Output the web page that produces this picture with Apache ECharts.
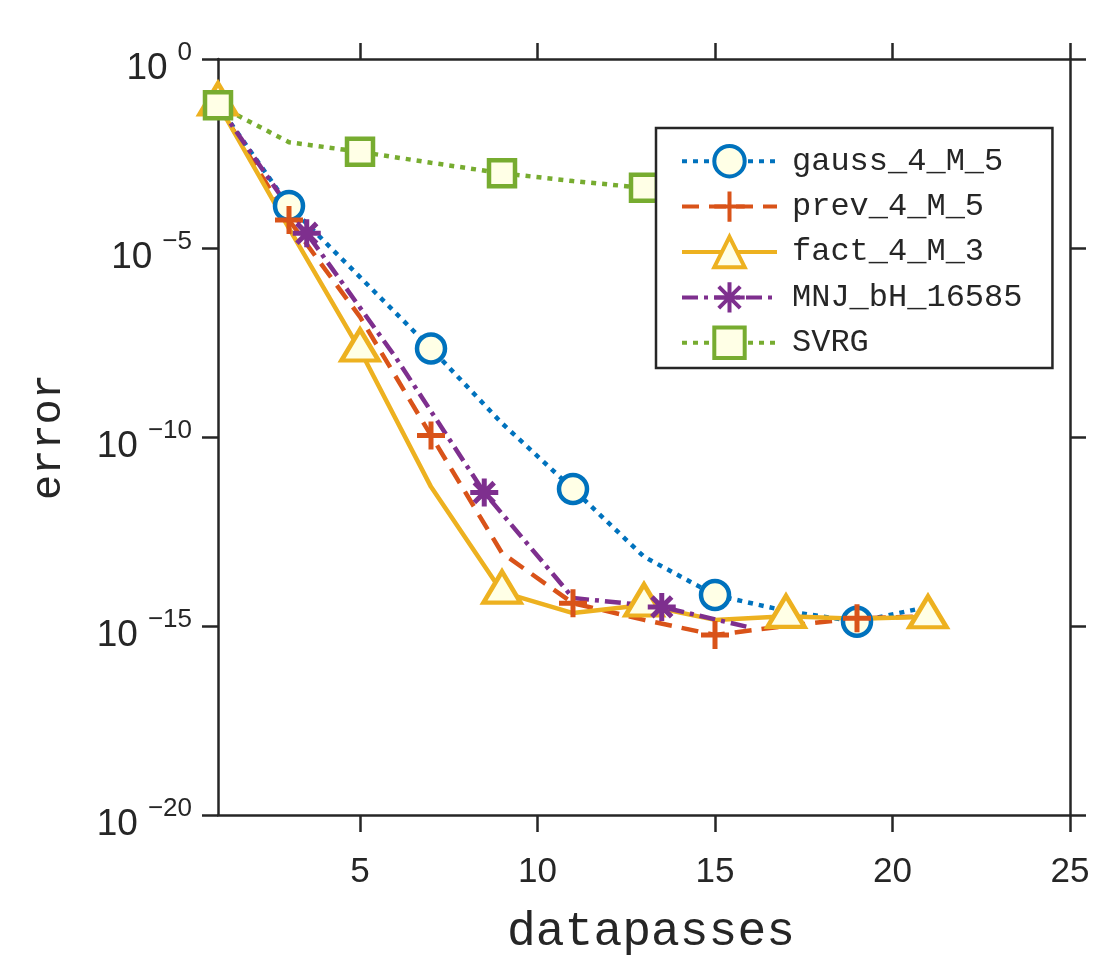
<!DOCTYPE html>
<html lang="en">
<head>
    <meta charset="UTF-8">
    <title>error vs datapasses</title>
    <script src="https://cdn.jsdelivr.net/npm/echarts@6/dist/echarts.min.js"></script>
    <style>
        html, body { margin: 0; padding: 0; background: #fff; }
        #chart { width: 1115px; height: 955px; }
    </style>
    <script>
        // x positions (datapasses) and error values
        var xEven = [1, 3, 5, 7, 9, 11, 13, 15, 17, 19, 21];
        var xMnj = [1, 3.5, 6, 8.5, 11, 13.5, 16];

        var gaussVals = [6e-2, 1.3e-4, 1.7e-6, 2.2e-8, 2.3e-10, 4.2e-12, 6.8e-14, 6.6e-15, 2.5e-15, 1.3e-15, 3.2e-15];
        var prevVals = [6e-2, 5.5e-5, 1.5e-7, 1.1e-10, 8.5e-14, 4.0e-15, 1.45e-15, 5.8e-16, 1.0e-15, 1.6e-15, 1.8e-15];
        var factVals = [6.5e-2, 3.3e-5, 2.0e-8, 4.8e-12, 7.9e-15, 2.2e-15, 3.6e-15, 1.45e-15, 1.8e-15, 1.55e-15, 1.75e-15];
        var mnjVals = [6e-2, 2.45e-5, 1.3e-8, 3.4e-12, 5.5e-15, 3.2e-15, 9.1e-16];
        var svrgVals = [6e-2, 6.3e-3, 3.5e-3, 1.8e-3, 9.5e-4, 5.9e-4, 3.9e-4, 2.8e-4, 2.0e-4, 1.5e-4, 1.1e-4];

        // where markers are drawn
        var gaussMarks = [3, 7, 11, 15, 19];
        var prevMarks = [3, 7, 11, 15, 19];
        var factMarks = [1, 5, 9, 13, 17, 21];
        var mnjMarks = [3.5, 8.5, 13.5];
        var svrgMarks = [1, 5, 9, 13, 17, 21];

        var xTicks = [5, 10, 15, 20, 25];

        var names = ['gauss_4_M_5', 'prev_4_M_5', 'fact_4_M_3', 'MNJ_bH_16585', 'SVRG'];

        var PLUS = 'path://M0,-10L0,10M-10,0L10,0';
        var STAR = 'path://M0,-10L0,10M-10,0L10,0M-7.07,-7.07L7.07,7.07M-7.07,7.07L7.07,-7.07';
        var FACE = '#FFFFE6';
        var AX = '#262626';

        function pts(xs, ys, marks) {
            return xs.map(function (x, i) {
                var d = {value: [x, ys[i]]};
                if (marks.indexOf(x) < 0) d.symbol = 'none';
                return d;
            });
        }

        function mkSeries(name, xs, ys, marks, color, dash, symbol, size, filled, offset) {
            return {
                name: name,
                type: 'line',
                data: pts(xs, ys, marks),
                showAllSymbol: true,
                symbol: symbol,
                symbolSize: size,
                symbolOffset: offset || [0, 0],
                lineStyle: {color: color, width: 4.5, type: dash, cap: 'butt'},
                itemStyle: {
                    color: filled ? FACE : color,
                    borderColor: color,
                    borderWidth: filled ? 4.5 : 5
                },
                emphasis: {disabled: true},
                animation: false
            };
        }

        window.onload = function () {
            var myChart = echarts.init(document.getElementById('chart'));

            var option = {
                backgroundColor: '#fff',
                grid: {left: 218, right: 45, top: 59, bottom: 140, outerBoundsMode: 'none', containLabel: false},
                legend: {
                    orient: 'vertical',
                    left: 656,
                    top: 128,
                    data: names,
                    backgroundColor: '#fff',
                    borderColor: AX,
                    borderWidth: 2.5,
                    borderRadius: 0,
                    padding: [16, 30, 8, 24],
                    itemWidth: 95,
                    itemHeight: 38,
                    itemGap: 11,
                    lineStyle: {width: 4},
                    itemStyle: {borderWidth: 4},
                    textStyle: {
                        fontFamily: 'Liberation Mono',
                        fontSize: 32,
                        color: AX,
                        padding: [0, 0, 0, 10]
                    }
                },
                xAxis: [{
                    type: 'value',
                    min: 1,
                    max: 25,
                    name: 'datapasses',
                    nameLocation: 'middle',
                    nameGap: 93,
                    nameTextStyle: {fontFamily: 'Liberation Mono', fontSize: 48, color: AX, padding: [0, 0, 0, 14]},
                    axisLine: {lineStyle: {color: AX, width: 2.5}},
                    axisTick: {inside: false, length: 17, customValues: xTicks, lineStyle: {color: AX, width: 2.5}},
                    axisLabel: {customValues: xTicks, margin: 40, fontFamily: 'Liberation Sans', fontSize: 35, color: AX},
                    splitLine: {show: false}
                }, {
                    type: 'value',
                    position: 'top',
                    min: 1,
                    max: 25,
                    axisLine: {lineStyle: {color: AX, width: 2.5}},
                    axisTick: {inside: false, length: 16, customValues: xTicks, lineStyle: {color: AX, width: 2.5}},
                    axisLabel: {show: false},
                    splitLine: {show: false}
                }],
                yAxis: [{
                    type: 'log',
                    logBase: 10,
                    min: 1e-20,
                    max: 1,
                    interval: 5,
                    name: 'error',
                    nameLocation: 'middle',
                    nameGap: 148,
                    nameTextStyle: {fontFamily: 'Liberation Mono', fontSize: 42, color: AX},
                    axisLine: {show: true, lineStyle: {color: AX, width: 2.5}},
                    axisTick: {show: true, inside: false, length: 16, lineStyle: {color: AX, width: 2.5}},
                    axisLabel: {
                        margin: 26,
                        color: AX,
                        formatter: function (v) {
                            var e = Math.round(Math.log10(v));
                            var s = e < 0 ? '\u2212' + (-e) : '' + e;
                            return '{b|10}{s|' + s + '}';
                        },
                        rich: {
                            b: {fontFamily: 'Liberation Sans', fontSize: 37, lineHeight: 34, padding: [20, 0, 0, 0], color: AX},
                            s: {fontFamily: 'Liberation Sans', fontSize: 26, lineHeight: 22, padding: [10, 0, 22, 10], color: AX}
                        }
                    },
                    splitLine: {show: false}
                }, {
                    type: 'log',
                    logBase: 10,
                    min: 1e-20,
                    max: 1,
                    interval: 5,
                    position: 'right',
                    axisLine: {show: true, lineStyle: {color: AX, width: 2.5}},
                    axisTick: {show: true, inside: false, length: 16, lineStyle: {color: AX, width: 2.5}},
                    axisLabel: {show: false},
                    splitLine: {show: false}
                }],
                series: [
                    mkSeries(names[0], xEven, gaussVals, gaussMarks, '#0072BD', [5, 6], 'circle', 28, true),
                    mkSeries(names[1], xEven, prevVals, prevMarks, '#D95319', [17, 10], PLUS, 28, false),
                    mkSeries(names[2], xEven, factVals, factMarks, '#EDB120', 'solid', 'triangle', [37, 31], true, [0, -5]),
                    mkSeries(names[3], xMnj, mnjVals, mnjMarks, '#7E2F8E', [16, 6, 4, 6], STAR, 28, false),
                    mkSeries(names[4], xEven, svrgVals, svrgMarks, '#77AC30', [5, 6], 'rect', 26, true)
                ]
            };

            myChart.setOption(option);
        };
    </script>
</head>
<body>
<div id="chart"></div>
</body>
</html>
